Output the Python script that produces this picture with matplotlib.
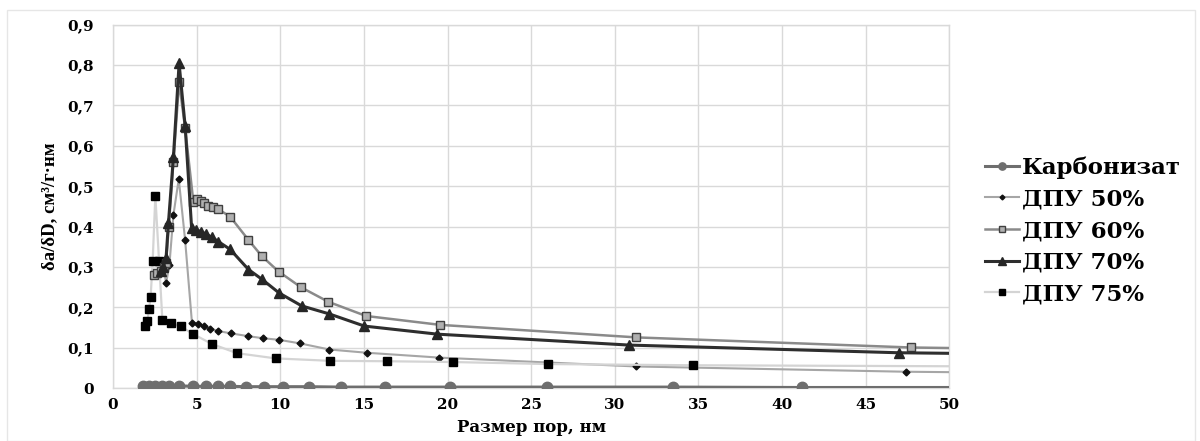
import matplotlib
matplotlib.use("Agg")
import matplotlib.pyplot as plt
from matplotlib.patches import Rectangle

# ---- data ----
karb_x = [1.82, 2.17, 2.51, 2.92, 3.37, 3.96, 4.78, 5.57, 6.26, 6.99, 7.95, 9.02,
          10.19, 11.7, 13.63, 16.28, 20.13, 25.95, 33.48, 41.19, 55.0]
karb_y = [0.006, 0.006, 0.006, 0.006, 0.006, 0.006, 0.005, 0.005, 0.005, 0.005, 0.004,
          0.004, 0.004, 0.004, 0.003, 0.003, 0.003, 0.003, 0.003, 0.002, 0.002]

d50_x = [2.85, 3.0, 3.17, 3.37, 3.61, 3.93, 4.31, 4.72, 5.1, 5.44, 5.8, 6.26, 7.04,
         8.1, 8.95, 9.93, 11.2, 12.94, 15.17, 19.5, 31.3, 47.4, 60.0]
d50_y = [0.29, 0.31, 0.26, 0.305, 0.429, 0.518, 0.367, 0.162, 0.159, 0.154, 0.148,
         0.142, 0.136, 0.129, 0.124, 0.120, 0.111, 0.096, 0.088, 0.076, 0.054, 0.041, 0.036]

d60_x = [2.45, 2.65, 2.85, 3.05, 3.17, 3.33, 3.61, 3.95, 4.31, 4.8, 5.04, 5.24, 5.44,
         5.7, 6.0, 6.3, 7.0, 8.1, 8.9, 9.9, 11.24, 12.88, 15.13, 19.56, 31.3, 47.7, 60.0]
d60_y = [0.28, 0.285, 0.29, 0.30, 0.31, 0.40, 0.56, 0.759, 0.644, 0.462, 0.468, 0.463,
         0.459, 0.452, 0.449, 0.443, 0.425, 0.367, 0.327, 0.289, 0.250, 0.214, 0.179,
         0.157, 0.126, 0.101, 0.094]

d70_x = [2.85, 3.0, 3.17, 3.31, 3.61, 3.95, 4.31, 4.7, 4.96, 5.24, 5.56, 5.9, 6.3, 7.0,
         8.1, 8.9, 9.93, 11.28, 12.94, 15.03, 19.4, 30.86, 46.97, 60.0]
d70_y = [0.29, 0.30, 0.322, 0.408, 0.572, 0.804, 0.65, 0.396, 0.392, 0.388, 0.382,
         0.374, 0.363, 0.344, 0.294, 0.270, 0.236, 0.204, 0.184, 0.154, 0.134, 0.107,
         0.088, 0.082]

d75_x = [1.91, 2.05, 2.15, 2.25, 2.37, 2.53, 2.75, 2.95, 3.45, 4.05, 4.8, 5.9, 7.4,
         9.73, 13.0, 16.37, 20.35, 26.0, 34.7, 60.0]
d75_y = [0.153, 0.166, 0.196, 0.227, 0.316, 0.476, 0.316, 0.169, 0.162, 0.153, 0.134,
         0.110, 0.087, 0.074, 0.068, 0.067, 0.065, 0.060, 0.057, 0.053]

series_names = ["Карбонизат", "ДПУ 50%", "ДПУ 60%", "ДПУ 70%", "ДПУ 75%"]
x_ticks = [0, 5, 10, 15, 20, 25, 30, 35, 40, 45, 50]
y_ticks = [0, 0.1, 0.2, 0.3, 0.4, 0.5, 0.6, 0.7, 0.8, 0.9]
y_tick_labels = ["0", "0,1", "0,2", "0,3", "0,4", "0,5", "0,6", "0,7", "0,8", "0,9"]
x_label = "Размер пор, нм"
y_label = "δa/δD, см³/г·нм"

# ---- figure ----
plt.rcParams['font.family'] = ['DejaVu Serif']
fig = plt.figure(figsize=(12, 4.41), dpi=100)
fig.patches.append(Rectangle((0.006, 0.0), 0.99, 0.978, transform=fig.transFigure,
                             fill=False, edgecolor='#e6e6e6', linewidth=1))
ax = fig.add_axes([0.0942, 0.1195, 0.6968, 0.8245])

ax.plot(karb_x, karb_y, color='#6e6e6e', lw=2.2, marker='o', ms=7.5,
        mfc='#6e6e6e', mec='#6e6e6e', label=series_names[0], zorder=3)
ax.plot(d50_x, d50_y, color='#a6a6a6', lw=1.5, marker='D', ms=3.5,
        mfc='#111111', mec='#111111', label=series_names[1], zorder=4)
ax.plot(d60_x, d60_y, color='#8a8a8a', lw=1.8, marker='s', ms=5.5,
        mfc='#b0b0b0', mec='#404040', mew=1.0, label=series_names[2], zorder=5)
ax.plot(d70_x, d70_y, color='#2e2e2e', lw=2.2, marker='^', ms=7.5,
        mfc='#262626', mec='#262626', label=series_names[3], zorder=6)
ax.plot(d75_x, d75_y, color='#d4d4d4', lw=1.6, marker='s', ms=5.5,
        mfc='#000000', mec='#000000', label=series_names[4], zorder=4.5)

ax.set_xlim(0, 50)
ax.set_ylim(0, 0.9)
ax.set_xticks(x_ticks)
ax.set_xticklabels([str(v) for v in x_ticks], fontsize=11, fontweight='bold',
                   family='DejaVu Serif')
ax.set_yticks(y_ticks)
ax.set_yticklabels(y_tick_labels, fontsize=11, fontweight='bold', family='DejaVu Serif')
ax.tick_params(axis='both', length=0)
ax.tick_params(axis='y', pad=14)
ax.tick_params(axis='x', pad=7)
ax.grid(True, color='#d9d9d9', lw=1.0)
ax.set_axisbelow(True)
for s in ax.spines.values():
    s.set_color('#d9d9d9')
    s.set_linewidth(1.0)

ax.set_xlabel(x_label, fontsize=12, fontweight='bold', family='DejaVu Serif', labelpad=5)
ax.set_ylabel(y_label, fontsize=13.5, fontweight='bold', family='Liberation Serif',
              labelpad=6)

leg = ax.legend(loc='center left', bbox_to_anchor=(1.018, 0.433), frameon=False,
                prop={'family': 'DejaVu Serif', 'weight': 'bold', 'size': 16.5},
                handlelength=1.5, handletextpad=0.1, labelspacing=0.42, numpoints=1,
                markerscale=0.7)

fig.savefig("out.png", dpi=100)
